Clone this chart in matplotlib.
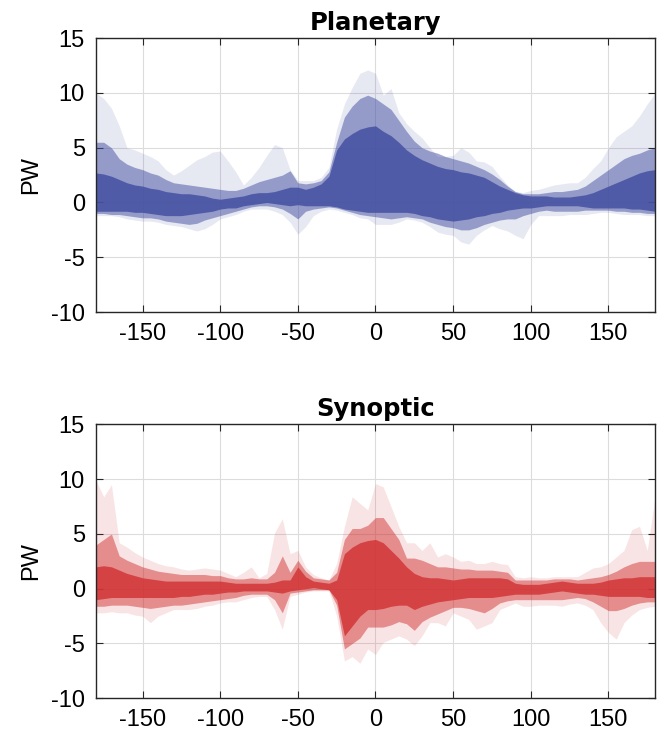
import numpy as np
import matplotlib
matplotlib.use("Agg")
import matplotlib.pyplot as plt

# longitude grid (deg), shared by every envelope below
lon = np.arange(-180, 181, 5)

# ---- planetary transport envelopes (PW) ----
plan_out_hi = [10.0, 9.5, 8.6, 7.0, 5.0, 4.8, 4.5, 4.2, 3.8, 3.0,
               2.5, 2.9, 3.4, 3.9, 4.2, 4.6, 4.7, 3.8, 2.8, 1.6,
               2.3, 3.2, 4.3, 5.3, 5.0, 3.0, 2.0, 2.0, 2.0, 2.3,
               3.2, 6.7, 9.0, 10.5, 11.8, 12.1, 11.8, 9.8, 10.4, 8.2,
               7.2, 6.5, 5.9, 5.0, 4.2, 4.2, 4.3, 5.0, 4.6, 3.8,
               3.7, 3.3, 2.4, 1.6, 1.0, 0.9, 1.1, 1.2, 1.4, 1.6,
               1.7, 1.8, 1.8, 2.3, 3.1, 3.8, 5.0, 6.0, 6.5, 7.0,
               7.9, 9.0, 10.0]
plan_out_lo = [-1.2, -1.2, -1.2, -1.3, -1.5, -1.6, -1.7, -1.7, -1.8, -2.0,
               -2.1, -2.2, -2.4, -2.6, -2.4, -2.0, -1.5, -1.3, -1.1, -0.8,
               -0.6, -0.6, -0.6, -0.8, -1.1, -1.8, -2.9, -2.2, -1.2, -0.8,
               -0.6, -0.7, -0.9, -1.1, -1.4, -1.5, -2.0, -2.0, -2.0, -1.8,
               -1.5, -1.6, -1.8, -2.2, -2.7, -2.9, -3.0, -3.6, -3.8, -3.0,
               -2.5, -2.1, -2.4, -2.6, -3.0, -3.3, -2.0, -1.2, -1.2, -1.2,
               -1.2, -1.1, -1.1, -1.1, -1.0, -0.9, -0.9, -1.0, -1.1, -1.1,
               -1.1, -1.2, -1.2]
plan_mid_hi = [5.5, 5.5, 5.0, 4.0, 3.5, 3.2, 3.0, 2.7, 2.5, 2.1,
               1.8, 1.7, 1.6, 1.5, 1.4, 1.3, 1.2, 1.1, 1.1, 1.3,
               1.6, 1.9, 2.1, 2.3, 2.5, 2.9, 1.8, 1.7, 1.8, 2.0,
               2.8, 5.5, 7.8, 8.8, 9.5, 9.8, 9.5, 9.0, 8.5, 7.5,
               6.5, 5.6, 5.0, 4.7, 4.5, 4.2, 4.0, 3.8, 3.6, 3.3,
               3.0, 2.6, 2.1, 1.5, 1.0, 0.8, 0.8, 0.8, 0.9, 1.0,
               1.0, 1.1, 1.2, 1.5, 2.0, 2.5, 3.0, 3.5, 4.0, 4.3,
               4.5, 4.8, 5.0]
plan_mid_lo = [-1.0, -1.0, -1.1, -1.1, -1.2, -1.3, -1.4, -1.4, -1.5, -1.7,
               -1.8, -1.9, -2.0, -1.9, -1.6, -1.4, -1.2, -1.0, -0.8, -0.6,
               -0.4, -0.3, -0.3, -0.4, -0.6, -1.0, -1.5, -0.8, -0.6, -0.5,
               -0.4, -0.5, -0.7, -0.9, -1.1, -1.2, -1.3, -1.4, -1.5, -1.4,
               -1.3, -1.4, -1.5, -1.8, -2.0, -2.2, -2.3, -2.5, -2.5, -2.3,
               -2.0, -1.8, -1.6, -1.5, -1.5, -1.2, -1.0, -0.8, -0.7, -0.8,
               -0.8, -0.8, -0.8, -0.7, -0.7, -0.7, -0.7, -0.8, -0.8, -0.9,
               -0.9, -1.0, -1.0]
plan_core_hi = [2.7, 2.6, 2.4, 2.1, 1.8, 1.6, 1.5, 1.3, 1.2, 1.0,
                0.9, 0.8, 0.8, 0.7, 0.6, 0.4, 0.3, 0.4, 0.5, 0.6,
                0.8, 0.9, 0.9, 1.0, 1.2, 1.4, 1.4, 1.2, 1.4, 1.7,
                2.4, 4.8, 5.8, 6.3, 6.7, 6.9, 7.0, 6.5, 6.1, 5.5,
                4.8, 4.3, 3.9, 3.6, 3.3, 3.1, 3.0, 2.8, 2.7, 2.5,
                2.3, 1.9, 1.5, 1.2, 0.9, 0.7, 0.6, 0.6, 0.6, 0.5,
                0.5, 0.5, 0.6, 0.7, 0.9, 1.2, 1.5, 1.8, 2.1, 2.4,
                2.7, 2.9, 3.0]
plan_core_lo = [-0.8, -0.8, -0.8, -0.8, -0.8, -0.9, -0.9, -1.0, -1.1, -1.2,
                -1.2, -1.2, -1.1, -1.0, -0.9, -0.8, -0.6, -0.5, -0.5, -0.3,
                -0.2, -0.1, 0.0, -0.1, -0.2, -0.3, -0.2, -0.3, -0.3, -0.3,
                -0.3, -0.4, -0.6, -0.7, -0.8, -0.9, -0.9, -0.9, -0.9, -0.9,
                -0.9, -1.0, -1.2, -1.3, -1.5, -1.6, -1.7, -1.6, -1.5, -1.3,
                -1.2, -1.0, -0.9, -0.7, -0.6, -0.5, -0.5, -0.4, -0.3, -0.3,
                -0.3, -0.3, -0.3, -0.4, -0.5, -0.5, -0.5, -0.5, -0.5, -0.6,
                -0.6, -0.7, -0.8]

# ---- synoptic transport envelopes (PW) ----
syn_out_hi = [9.9, 8.4, 9.5, 4.2, 3.8, 3.3, 2.9, 2.6, 2.3, 2.1,
              2.0, 1.8, 1.7, 1.8, 1.9, 1.8, 1.7, 1.4, 1.1, 1.5,
              2.0, 1.0, 1.4, 5.1, 6.4, 3.2, 3.5, 2.0, 1.3, 1.0,
              0.8, 2.3, 5.7, 8.4, 7.8, 7.2, 9.6, 9.3, 7.5, 5.7,
              4.2, 4.2, 3.5, 4.2, 2.9, 3.2, 2.9, 2.5, 2.6, 2.3,
              2.3, 2.5, 2.3, 2.2, 1.1, 1.0, 1.1, 1.0, 1.0, 1.1,
              1.1, 1.1, 1.1, 1.5, 1.9, 2.0, 2.3, 2.9, 3.5, 5.4,
              5.7, 3.5, 8.4]
syn_out_lo = [-2.2, -2.2, -2.1, -2.2, -2.2, -2.4, -2.5, -3.1, -2.5, -2.2,
              -1.9, -1.9, -1.9, -1.8, -1.6, -1.5, -1.3, -1.2, -1.2, -1.0,
              -0.8, -0.7, -0.7, -1.9, -3.7, -0.7, -0.5, -0.3, -0.2, -0.2,
              -0.2, -2.5, -6.6, -6.2, -6.8, -5.5, -6.0, -4.9, -4.6, -4.3,
              -4.6, -5.2, -4.3, -3.1, -3.1, -3.4, -2.2, -2.5, -2.8, -3.7,
              -3.4, -3.1, -1.9, -1.6, -1.3, -1.6, -1.6, -1.5, -1.5, -1.5,
              -1.6, -1.4, -1.3, -1.5, -1.9, -3.1, -4.0, -4.6, -3.1, -2.4,
              -1.9, -1.7, -1.6]
syn_mid_hi = [4.0, 4.5, 5.0, 3.0, 2.6, 2.3, 2.0, 1.8, 1.6, 1.5,
              1.4, 1.3, 1.3, 1.3, 1.3, 1.2, 1.2, 1.0, 0.9, 0.9,
              1.0, 0.9, 0.9, 1.5, 3.0, 1.5, 2.6, 1.6, 1.0, 0.9,
              0.8, 1.5, 4.5, 5.5, 5.5, 5.8, 6.5, 6.5, 5.5, 4.5,
              2.8, 2.8, 2.6, 2.3, 2.0, 2.0, 1.9, 1.8, 1.8, 1.7,
              1.7, 1.7, 1.6, 1.5, 0.8, 0.8, 0.8, 0.8, 0.8, 0.9,
              0.9, 0.9, 0.8, 0.9, 1.0, 1.1, 1.3, 1.6, 2.0, 2.3,
              2.5, 2.5, 2.5]
syn_mid_lo = [-1.6, -1.6, -1.5, -1.5, -1.5, -1.6, -1.7, -1.8, -1.7, -1.6,
              -1.5, -1.5, -1.4, -1.3, -1.2, -1.1, -1.0, -0.9, -0.8, -0.6,
              -0.5, -0.5, -0.5, -1.0, -2.2, -0.4, -0.3, -0.2, -0.1, -0.1,
              -0.1, -1.5, -5.5, -5.0, -4.5, -3.5, -3.5, -3.5, -3.3, -3.0,
              -3.2, -3.8, -3.0, -2.6, -2.3, -2.0, -1.7, -1.7, -1.8, -2.0,
              -2.2, -1.8, -1.3, -1.1, -1.0, -1.0, -1.0, -1.0, -1.0, -1.0,
              -1.0, -0.9, -0.8, -0.9, -1.2, -1.6, -2.0, -2.0, -1.8, -1.5,
              -1.3, -1.2, -1.2]
syn_core_hi = [2.0, 2.1, 2.0, 1.7, 1.4, 1.2, 1.0, 0.9, 0.8, 0.7,
               0.7, 0.7, 0.7, 0.7, 0.7, 0.7, 0.7, 0.6, 0.5, 0.5,
               0.5, 0.5, 0.5, 0.6, 0.8, 0.8, 2.0, 1.1, 0.7, 0.6,
               0.5, 0.8, 3.2, 3.8, 4.2, 4.4, 4.5, 4.2, 3.5, 2.8,
               2.0, 1.4, 1.1, 1.0, 1.0, 0.9, 0.8, 0.9, 1.0, 1.0,
               1.0, 1.0, 1.0, 0.9, 0.5, 0.4, 0.4, 0.4, 0.5, 0.6,
               0.7, 0.6, 0.5, 0.5, 0.5, 0.6, 0.8, 0.9, 1.0, 1.0,
               1.1, 1.1, 1.1]
syn_core_lo = [-1.0, -0.9, -0.8, -0.8, -0.8, -0.8, -0.8, -0.8, -0.8, -0.8,
               -0.8, -0.7, -0.7, -0.6, -0.5, -0.5, -0.4, -0.3, -0.3, -0.2,
               -0.2, -0.2, -0.2, -0.3, -0.4, -0.2, -0.1, 0.0, 0.1, 0.0,
               -0.1, -1.0, -4.3, -3.4, -2.5, -1.9, -1.9, -1.8, -1.6, -1.5,
               -1.5, -1.9, -1.6, -1.4, -1.2, -1.1, -1.0, -0.9, -0.8, -0.8,
               -0.8, -0.8, -0.7, -0.6, -0.5, -0.5, -0.5, -0.5, -0.4, -0.3,
               -0.2, -0.3, -0.4, -0.5, -0.5, -0.6, -0.7, -0.7, -0.7, -0.7,
               -0.7, -0.8, -0.8]

panels = [
    ("Planetary", "#4450a2",
     [(plan_out_lo, plan_out_hi), (plan_mid_lo, plan_mid_hi), (plan_core_lo, plan_core_hi)]),
    ("Synoptic", "#d23536",
     [(syn_out_lo, syn_out_hi), (syn_mid_lo, syn_mid_hi), (syn_core_lo, syn_core_hi)]),
]
alphas = [0.13, 0.5, 0.85]

plt.rcParams["font.family"] = ["Liberation Sans", "DejaVu Sans"]
plt.rcParams["axes.unicode_minus"] = False

fig = plt.figure(figsize=(6.57, 7.35), dpi=100)
boxes = [[0.146, 0.5755, 0.851, 0.3725], [0.146, 0.050, 0.851, 0.3725]]

for box, (name, col, layers) in zip(boxes, panels):
    ax = fig.add_axes(box)
    for (lo, hi), a in zip(layers, alphas):
        ax.fill_between(lon, lo, hi, color=col, alpha=a, linewidth=0)
    ax.set_xlim(-180, 180)
    ax.set_ylim(-10, 15)
    ax.set_xticks([-150, -100, -50, 0, 50, 100, 150])
    ax.set_yticks([-10, -5, 0, 5, 10, 15])
    ax.grid(True, color="#dcdcdc", linewidth=0.8)
    ax.set_axisbelow(True)
    ax.tick_params(direction="in", top=True, right=True, length=5,
                   width=0.8, color="#262626", labelsize=17, pad=8)
    for s in ax.spines.values():
        s.set_color("#262626")
        s.set_linewidth(1.0)
    ax.set_ylabel("PW", fontsize=17, labelpad=6)
    ax.set_title(name, fontsize=17.5, fontweight="bold", family="DejaVu Sans", pad=6)

fig.savefig("out.png", dpi=100)
